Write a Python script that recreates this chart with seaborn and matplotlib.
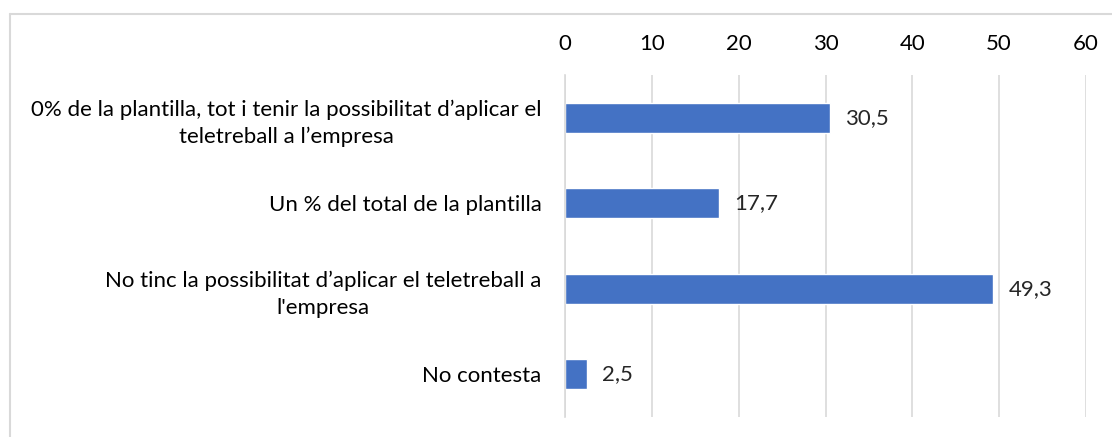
import matplotlib
matplotlib.use("Agg")
import matplotlib.pyplot as plt
import seaborn as sns
import pandas as pd
from matplotlib.lines import Line2D

# dades
categories = [
    "0% de la plantilla, tot i tenir la possibilitat d\u2019aplicar el\nteletreball a l\u2019empresa",
    "Un % del total de la plantilla",
    "No tinc la possibilitat d\u2019aplicar el teletreball a\nl'empresa",
    "No contesta",
]
values = [30.5, 17.7, 49.3, 2.5]
ticks = [0, 10, 20, 30, 40, 50, 60]

df = pd.DataFrame({"cat": categories, "val": values})

sns.set_style("white")
plt.rcParams["font.family"] = ["Lato", "DejaVu Sans"]
fs = 16

fig = plt.figure(figsize=(11.12, 4.37), dpi=100)
ax = fig.add_axes([565 / 1112, 1 - 417 / 437, (1086 - 565) / 1112, (417 - 75) / 437])

sns.barplot(data=df, x="val", y="cat", orient="h", color="#4472C4",
            width=0.35, saturation=1, ax=ax)

ax.set_xlim(0, 60)
ax.set_xticks(ticks)
ax.xaxis.tick_top()
ax.tick_params(axis="x", length=0, pad=15, labelsize=fs, colors="#000000")
ax.tick_params(axis="y", length=0, pad=17, labelsize=fs, colors="#000000")
for t in ax.get_yticklabels():
    t.set_multialignment("center")
    t.set_linespacing(1.45)
ax.grid(axis="x", color="#D9D9D9", linewidth=1.2)
ax.set_axisbelow(True)
ax.set_xlabel("")
ax.set_ylabel("")
for s in ["top", "right", "bottom"]:
    ax.spines[s].set_visible(False)
ax.spines["left"].set_color("#D9D9D9")
ax.spines["left"].set_linewidth(1.2)

ax.bar_label(ax.containers[0], labels=[f"{v:.1f}".replace(".", ",") for v in values],
             padding=11, fontsize=fs)

# vora del gràfic
fig.add_artist(Line2D([10 / 1112, 10 / 1112], [0, 1 - 14 / 437], color="#D9D9D9", lw=1.5))
fig.add_artist(Line2D([10 / 1112, 1], [1 - 14 / 437, 1 - 14 / 437], color="#D9D9D9", lw=1.5))

fig.savefig("out.png", dpi=100)
